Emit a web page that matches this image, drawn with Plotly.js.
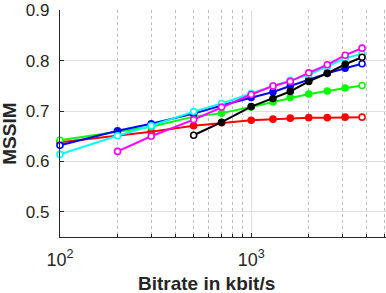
<!DOCTYPE html>
<html>
<head>
<meta charset="utf-8">
<script src="https://cdn.plot.ly/plotly-3.0.1.min.js"></script>
<style>html,body{margin:0;padding:0;background:#fff;}#chart{width:386px;height:293px;}</style>
</head>
<body>
<div id="chart"></div>
<script>
// ---- data ----
var bitrate = [100, 200, 300, 500, 700, 1000, 1300, 1600, 2000, 2500, 3100, 3800];
var redVals     = [0.638, 0.652, 0.659, 0.671, 0.677, 0.682, 0.684, 0.686, 0.687, 0.687, 0.688, 0.688];
var greenVals   = [0.642, 0.659, 0.669, 0.689, 0.696, 0.708, 0.718, 0.727, 0.734, 0.740, 0.746, 0.751];
var blueVals    = [0.632, 0.661, 0.675, 0.695, 0.711, 0.727, 0.738, 0.750, 0.762, 0.775, 0.785, 0.794];
var cyanVals    = [0.614, 0.651, 0.671, 0.699, 0.715, 0.735, 0.750, 0.761, 0.772, 0.788, 0.805, 0.814];
var magentaVals = [0.620, 0.650, 0.683, 0.708, 0.733, 0.750, 0.759, 0.776, 0.792, 0.811, 0.825];
var blackVals   = [0.652, 0.678, 0.709, 0.725, 0.739, 0.759, 0.775, 0.793, 0.807];
var yTickVals = [0.5, 0.6, 0.7, 0.8, 0.9];
var yTickText = ['0.5', '0.6', '0.7', '0.8', '0.9'];
var xTickVals = [100, 1000];
var xTickText = ['10<sup>2</sup>', '10<sup>3</sup>'];
var xMinorVals = [200, 300, 400, 500, 600, 700, 800, 900, 2000, 3000, 4000, 5000];
var xTitle = 'Bitrate in kbit/s';
var yTitle = 'MSSIM';

// ---- build traces ----
function mk(vals, color, allOpen) {
  var xs = bitrate.slice(bitrate.length - vals.length);
  var fills = vals.map(function (v, i) {
    if (allOpen || i === 0 || i === vals.length - 1) return '#ffffff';
    return color;
  });
  return {
    x: xs, y: vals, type: 'scatter', mode: 'lines+markers',
    line: {color: color, width: 2},
    marker: {symbol: 'circle', size: 6, color: fills, line: {color: color, width: 1.6}},
    showlegend: false, hoverinfo: 'none', cliponaxis: false
  };
}
var traces = [
  mk(redVals, '#ff0000', false),
  mk(greenVals, '#00ff00', false),
  mk(blueVals, '#0000ff', false),
  mk(cyanVals, '#00ffff', true),
  mk(magentaVals, '#ff00ff', true),
  mk(blackVals, '#000000', false)
];

var fontFam = '"Liberation Sans", Arial, Helvetica, sans-serif';
var layout = {
  width: 386, height: 293,
  margin: {l: 60, r: 0, t: 10, b: 56, pad: 0},
  paper_bgcolor: '#ffffff', plot_bgcolor: '#ffffff',
  font: {family: fontFam, size: 17, color: '#262626'},
  xaxis: {
    type: 'log', range: [2, 3.705], autorange: false,
    tickmode: 'array', tickvals: xTickVals, ticktext: xTickText,
    ticks: 'inside', ticklen: 4, tickcolor: '#262626', tickwidth: 1,
    showline: true, linecolor: '#262626', linewidth: 1.2, mirror: false,
    showgrid: true, gridcolor: '#dedede', gridwidth: 1,
    zeroline: false, ticklabelstandoff: 6, ticklabeloverflow: 'allow',
    tickfont: {family: fontFam, size: 18, color: '#262626'},
    minor: {tickmode: 'array', tickvals: xMinorVals, ticks: 'inside', ticklen: 3,
            tickcolor: '#262626', showgrid: true, gridcolor: '#bdbdbd', griddash: 'dot', gridwidth: 1}
  },
  yaxis: {
    range: [0.45, 0.9008], autorange: false,
    tickmode: 'array', tickvals: yTickVals, ticktext: yTickText,
    ticks: 'inside', ticklen: 4, tickcolor: '#262626', tickwidth: 1,
    showline: true, linecolor: '#262626', linewidth: 1.2, mirror: false,
    showgrid: true, gridcolor: '#dedede', gridwidth: 1,
    zeroline: false, ticklabelstandoff: 6, ticklabeloverflow: 'allow',
    tickfont: {family: fontFam, size: 17, color: '#262626'}
  },
  annotations: [
    {text: '<b>' + xTitle + '</b>', xref: 'paper', yref: 'paper', x: 0.448, y: 0,
     xanchor: 'center', yanchor: 'middle', yshift: -46, showarrow: false,
     font: {family: fontFam, size: 19, color: '#262626'}},
    {text: '<b>' + yTitle + '</b>', xref: 'paper', yref: 'paper', x: 0, y: 0.455,
     xanchor: 'center', yanchor: 'middle', xshift: -50, textangle: -90, showarrow: false,
     font: {family: fontFam, size: 19, color: '#262626'}}
  ]
};
Plotly.newPlot('chart', traces, layout, {staticPlot: true, displayModeBar: false});
</script>
</body>
</html>
